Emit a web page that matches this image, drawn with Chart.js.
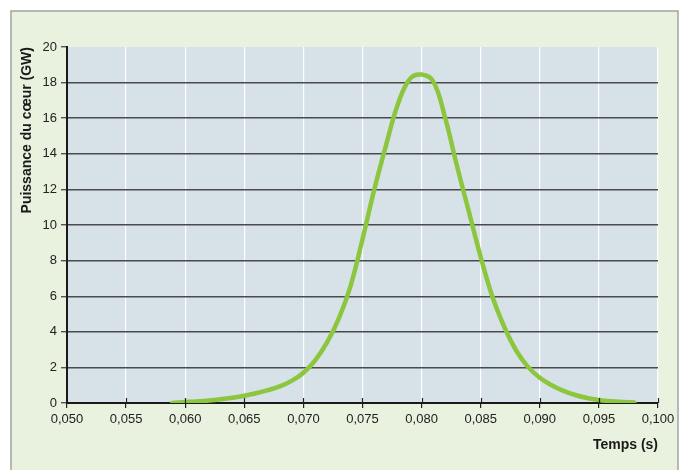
<!DOCTYPE html>
<html>
<head>
<meta charset="utf-8">
<script src="https://cdn.jsdelivr.net/npm/chart.js@4"></script>
<style>
  html, body { margin: 0; padding: 0; background: #ffffff; }
  #wrap { width: 686px; height: 470px; }
</style>
</head>
<body>
<div id="wrap"><canvas id="powerChart" width="686" height="470"></canvas></div>
<script>
const timeValues  = [0.0589, 0.060, 0.061, 0.062, 0.063, 0.064, 0.065, 0.066, 0.067, 0.068, 0.069, 0.070, 0.071, 0.072, 0.073, 0.074, 0.075, 0.076, 0.077, 0.078, 0.079, 0.080, 0.081, 0.082, 0.083, 0.084, 0.085, 0.086, 0.087, 0.088, 0.089, 0.090, 0.091, 0.092, 0.093, 0.094, 0.095, 0.096, 0.097, 0.098];
const powerValues = [0.00,   0.05,  0.09,  0.14,  0.21,  0.30,  0.41,  0.55,  0.72,  0.93,  1.24,  1.70,  2.40,  3.40,  4.75,  6.60,  9.20,  12.0,  14.5,  16.8,  18.2,  18.45, 18.05, 16.0,  13.3,  10.75, 8.20,  5.95,  4.27,  2.95,  2.03,  1.42,  1.00,  0.68,  0.45,  0.28,  0.17,  0.10,  0.06,  0.03];

const xTickValues = [0.050, 0.055, 0.060, 0.065, 0.070, 0.075, 0.080, 0.085, 0.090, 0.095, 0.100];
const xTickLabels = ['0,050', '0,055', '0,060', '0,065', '0,070', '0,075', '0,080', '0,085', '0,090', '0,095', '0,100'];
const yTickValues = [0, 2, 4, 6, 8, 10, 12, 14, 16, 18, 20];

const FONT = '"Liberation Sans", Arial, Helvetica, sans-serif';

// fond vert, cadre gris et fond bleuté de la zone de tracé
const backgroundPlugin = {
    id: 'backgroundPlugin',
    beforeDraw(chart) {
        const ctx = chart.ctx;
        const area = chart.chartArea;
        ctx.save();
        ctx.fillStyle = '#ffffff';
        ctx.fillRect(0, 0, chart.width, chart.height);
        ctx.fillStyle = '#e9f1df';
        ctx.fillRect(11, 11, 667, 470);
        ctx.strokeStyle = '#a0a4a0';
        ctx.lineWidth = 1.5;
        ctx.strokeRect(11, 11, 667, 480);
        ctx.fillStyle = '#d7e1e8';
        ctx.fillRect(area.left, area.top, area.right - area.left, area.bottom - area.top);
        ctx.restore();
    }
};

// petites graduations de l'axe x qui traversent l'axe vers le haut
const innerTicksPlugin = {
    id: 'innerTicksPlugin',
    afterDatasetsDraw(chart) {
        const ctx = chart.ctx;
        const xScale = chart.scales.x;
        const bottom = chart.chartArea.bottom;
        ctx.save();
        ctx.strokeStyle = '#222222';
        ctx.lineWidth = 1.2;
        xTickValues.forEach((v, i) => {
            if (i === 0) return;
            const px = Math.round(xScale.getPixelForValue(v)) + 0.5;
            ctx.beginPath();
            ctx.moveTo(px, bottom - 5);
            ctx.lineTo(px, bottom);
            ctx.stroke();
        });
        ctx.restore();
    }
};

const ctx = document.getElementById('powerChart').getContext('2d');

new Chart(ctx, {
    type: 'line',
    data: {
        datasets: [{
            data: timeValues.map((t, i) => ({ x: t, y: powerValues[i] })),
            borderColor: '#8cc63f',
            borderWidth: 4.5,
            pointRadius: 0,
            fill: false,
            tension: 0.4,
            borderCapStyle: 'round',
            borderJoinStyle: 'round'
        }]
    },
    options: {
        responsive: false,
        animation: false,
        layout: { padding: { left: 12, right: 28, top: 47, bottom: 12 } },
        plugins: {
            legend: { display: false },
            tooltip: { enabled: false }
        },
        scales: {
            x: {
                type: 'linear',
                min: 0.05,
                max: 0.1,
                afterBuildTicks: (scale) => { scale.ticks = xTickValues.map(v => ({ value: v })); },
                afterFit: (scale) => { scale.height = 55; },
                ticks: {
                    callback: (value, index) => xTickLabels[index],
                    color: '#222222',
                    font: { family: FONT, size: 13 },
                    padding: 4,
                    maxRotation: 0,
                    autoSkip: false
                },
                grid: {
                    color: (c) => (c.index === 0 ? 'rgba(0,0,0,0)' : '#ffffff'),
                    lineWidth: 1.2,
                    tickColor: '#222222',
                    tickLength: 5
                },
                border: { color: '#1a1a1a', width: 2 },
                title: {
                    display: true,
                    text: 'Temps (s)',
                    align: 'end',
                    color: '#1a1a1a',
                    font: { family: FONT, size: 14, weight: 'bold' },
                    padding: { top: 0, bottom: 4 }
                }
            },
            y: {
                min: 0,
                max: 20,
                afterBuildTicks: (scale) => { scale.ticks = yTickValues.map(v => ({ value: v })); },
                afterFit: (scale) => { scale.width = 55; },
                ticks: {
                    color: '#222222',
                    font: { family: FONT, size: 13 },
                    padding: 4
                },
                grid: {
                    color: (c) => (c.tick && (c.tick.value === 20 || c.tick.value === 0) ? 'rgba(0,0,0,0)' : '#4a4a4a'),
                    lineWidth: 1.4,
                    tickColor: '#555555',
                    tickLength: 6
                },
                border: { color: '#1a1a1a', width: 2 },
                title: {
                    display: true,
                    text: 'Puissance du cœur (GW)',
                    align: 'end',
                    color: '#1a1a1a',
                    font: { family: FONT, size: 14, weight: 'bold' },
                    padding: { top: 7, bottom: 0 }
                }
            }
        }
    },
    plugins: [backgroundPlugin, innerTicksPlugin]
});
</script>
</body>
</html>
